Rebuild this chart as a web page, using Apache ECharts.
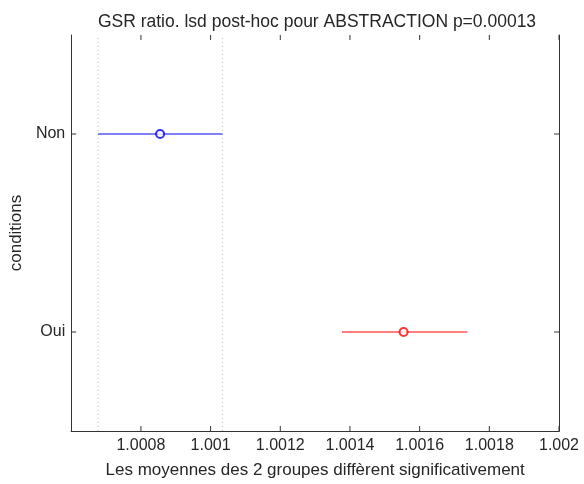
<!DOCTYPE html>
<html>
<head>
<meta charset="utf-8">
<script src="https://cdn.jsdelivr.net/npm/echarts@6/dist/echarts.min.js"></script>
<style>
html, body { margin: 0; padding: 0; background: #fff; }
#chart { width: 584px; height: 484px; }
</style>
</head>
<body>
<div id="chart"></div>
<script>
// groups, top to bottom
const groups = ["Non", "Oui"];
const means = [1.000855, 1.001554];
const lower = [1.000677, 1.001377];
const upper = [1.001034, 1.001737];
const colors = ["#0000ff", "#ff0000"];
const xTicks = [1.0008, 1.001, 1.0012, 1.0014, 1.0016, 1.0018, 1.002];

const font = "Liberation Sans, Arial, sans-serif";
const txt = "#262626";
// tick length as a fraction of the plot box (about 5px)
const tickLenY = 0.0126;
const tickLenX = 0.0102;

let chart = echarts.init(document.getElementById("chart"));

function seg(data, xi, yi, style) {
	return {
		type: "line",
		xAxisIndex: xi,
		yAxisIndex: yi,
		data: data,
		showSymbol: false,
		symbol: "none",
		lineStyle: style,
		silent: true,
		animation: false,
		clip: false,
		z: 1
	};
}

let series = [];
const tickStyle = { color: "#333", width: 1 };
// dotted guides at the first group's interval, on a hidden 0..1 axis
[lower[0], upper[0]].forEach(v => {
	series.push(seg([[v, 0], [v, 1]], 0, 2, { color: "#b8b8b8", type: [1, 3], width: 1 }));
});
// box ticks, bottom and top
xTicks.forEach(t => {
	series.push(seg([[t, 0], [t, tickLenY]], 0, 2, tickStyle));
	series.push(seg([[t, 1 - tickLenY], [t, 1]], 0, 2, tickStyle));
});
// box ticks, left and right
groups.forEach(g => {
	series.push(seg([[0, g], [tickLenX, g]], 1, 0, tickStyle));
	series.push(seg([[1 - tickLenX, g], [1, g]], 1, 0, tickStyle));
});
// error bars and means
groups.forEach((g, i) => {
	let bar = seg([[lower[i], g], [upper[i], g]], 0, 0, { color: colors[i], width: 1.2 });
	bar.z = 2;
	series.push(bar);
	series.push({
		type: "scatter",
		data: [[means[i], g]],
		symbol: "emptyCircle",
		symbolSize: 8,
		itemStyle: { color: colors[i], borderColor: colors[i], borderWidth: 1.2 },
		animation: false,
		z: 3
	});
});

const axisLine = { show: true, lineStyle: { color: "#333", width: 1 } };

let option = {
	title: {
		text: "GSR ratio. lsd post-hoc pour ABSTRACTION p=0.00013",
		left: 312,
		textAlign: "center",
		top: 8,
		textStyle: { fontFamily: font, fontSize: 17.5, fontWeight: "normal", color: txt }
	},
	grid: { left: 68, right: 25, top: 35, bottom: 52 },
	xAxis: [{
		type: "value",
		min: 1.0006,
		max: 1.002,
		interval: 0.0002,
		position: "bottom",
		name: "Les moyennes des 2 groupes diffèrent significativement",
		nameLocation: "middle",
		nameGap: 31,
		nameTextStyle: { fontFamily: font, fontSize: 17, color: txt },
		axisLine: axisLine,
		axisTick: { show: false },
		splitLine: { show: false },
		axisLabel: {
			showMinLabel: false,
			fontFamily: font, fontSize: 16, color: txt, margin: 7,
			formatter: v => String(+v.toFixed(4))
		}
	}, {
		type: "value",
		min: 0,
		max: 1,
		position: "top",
		axisLine: { show: true, lineStyle: { color: "#333", width: 1 } },
		axisTick: { show: false },
		axisLabel: { show: false },
		splitLine: { show: false }
	}],
	yAxis: [{
		type: "category",
		data: groups,
		inverse: true,
		position: "left",
		name: "conditions",
		nameLocation: "middle",
		nameGap: 45,
		nameRotate: 90,
		nameTextStyle: { fontFamily: font, fontSize: 17, color: txt },
		axisLine: axisLine,
		axisTick: { show: false },
		axisLabel: { fontFamily: font, fontSize: 16, color: txt, margin: 6 }
	}, {
		type: "value",
		min: 0,
		max: 1,
		position: "right",
		axisLine: { show: true, lineStyle: { color: "#333", width: 1 } },
		axisTick: { show: false },
		axisLabel: { show: false },
		splitLine: { show: false }
	}, {
		type: "value",
		min: 0,
		max: 1,
		show: false
	}],
	series: series
};
chart.setOption(option);
</script>
</body>
</html>
